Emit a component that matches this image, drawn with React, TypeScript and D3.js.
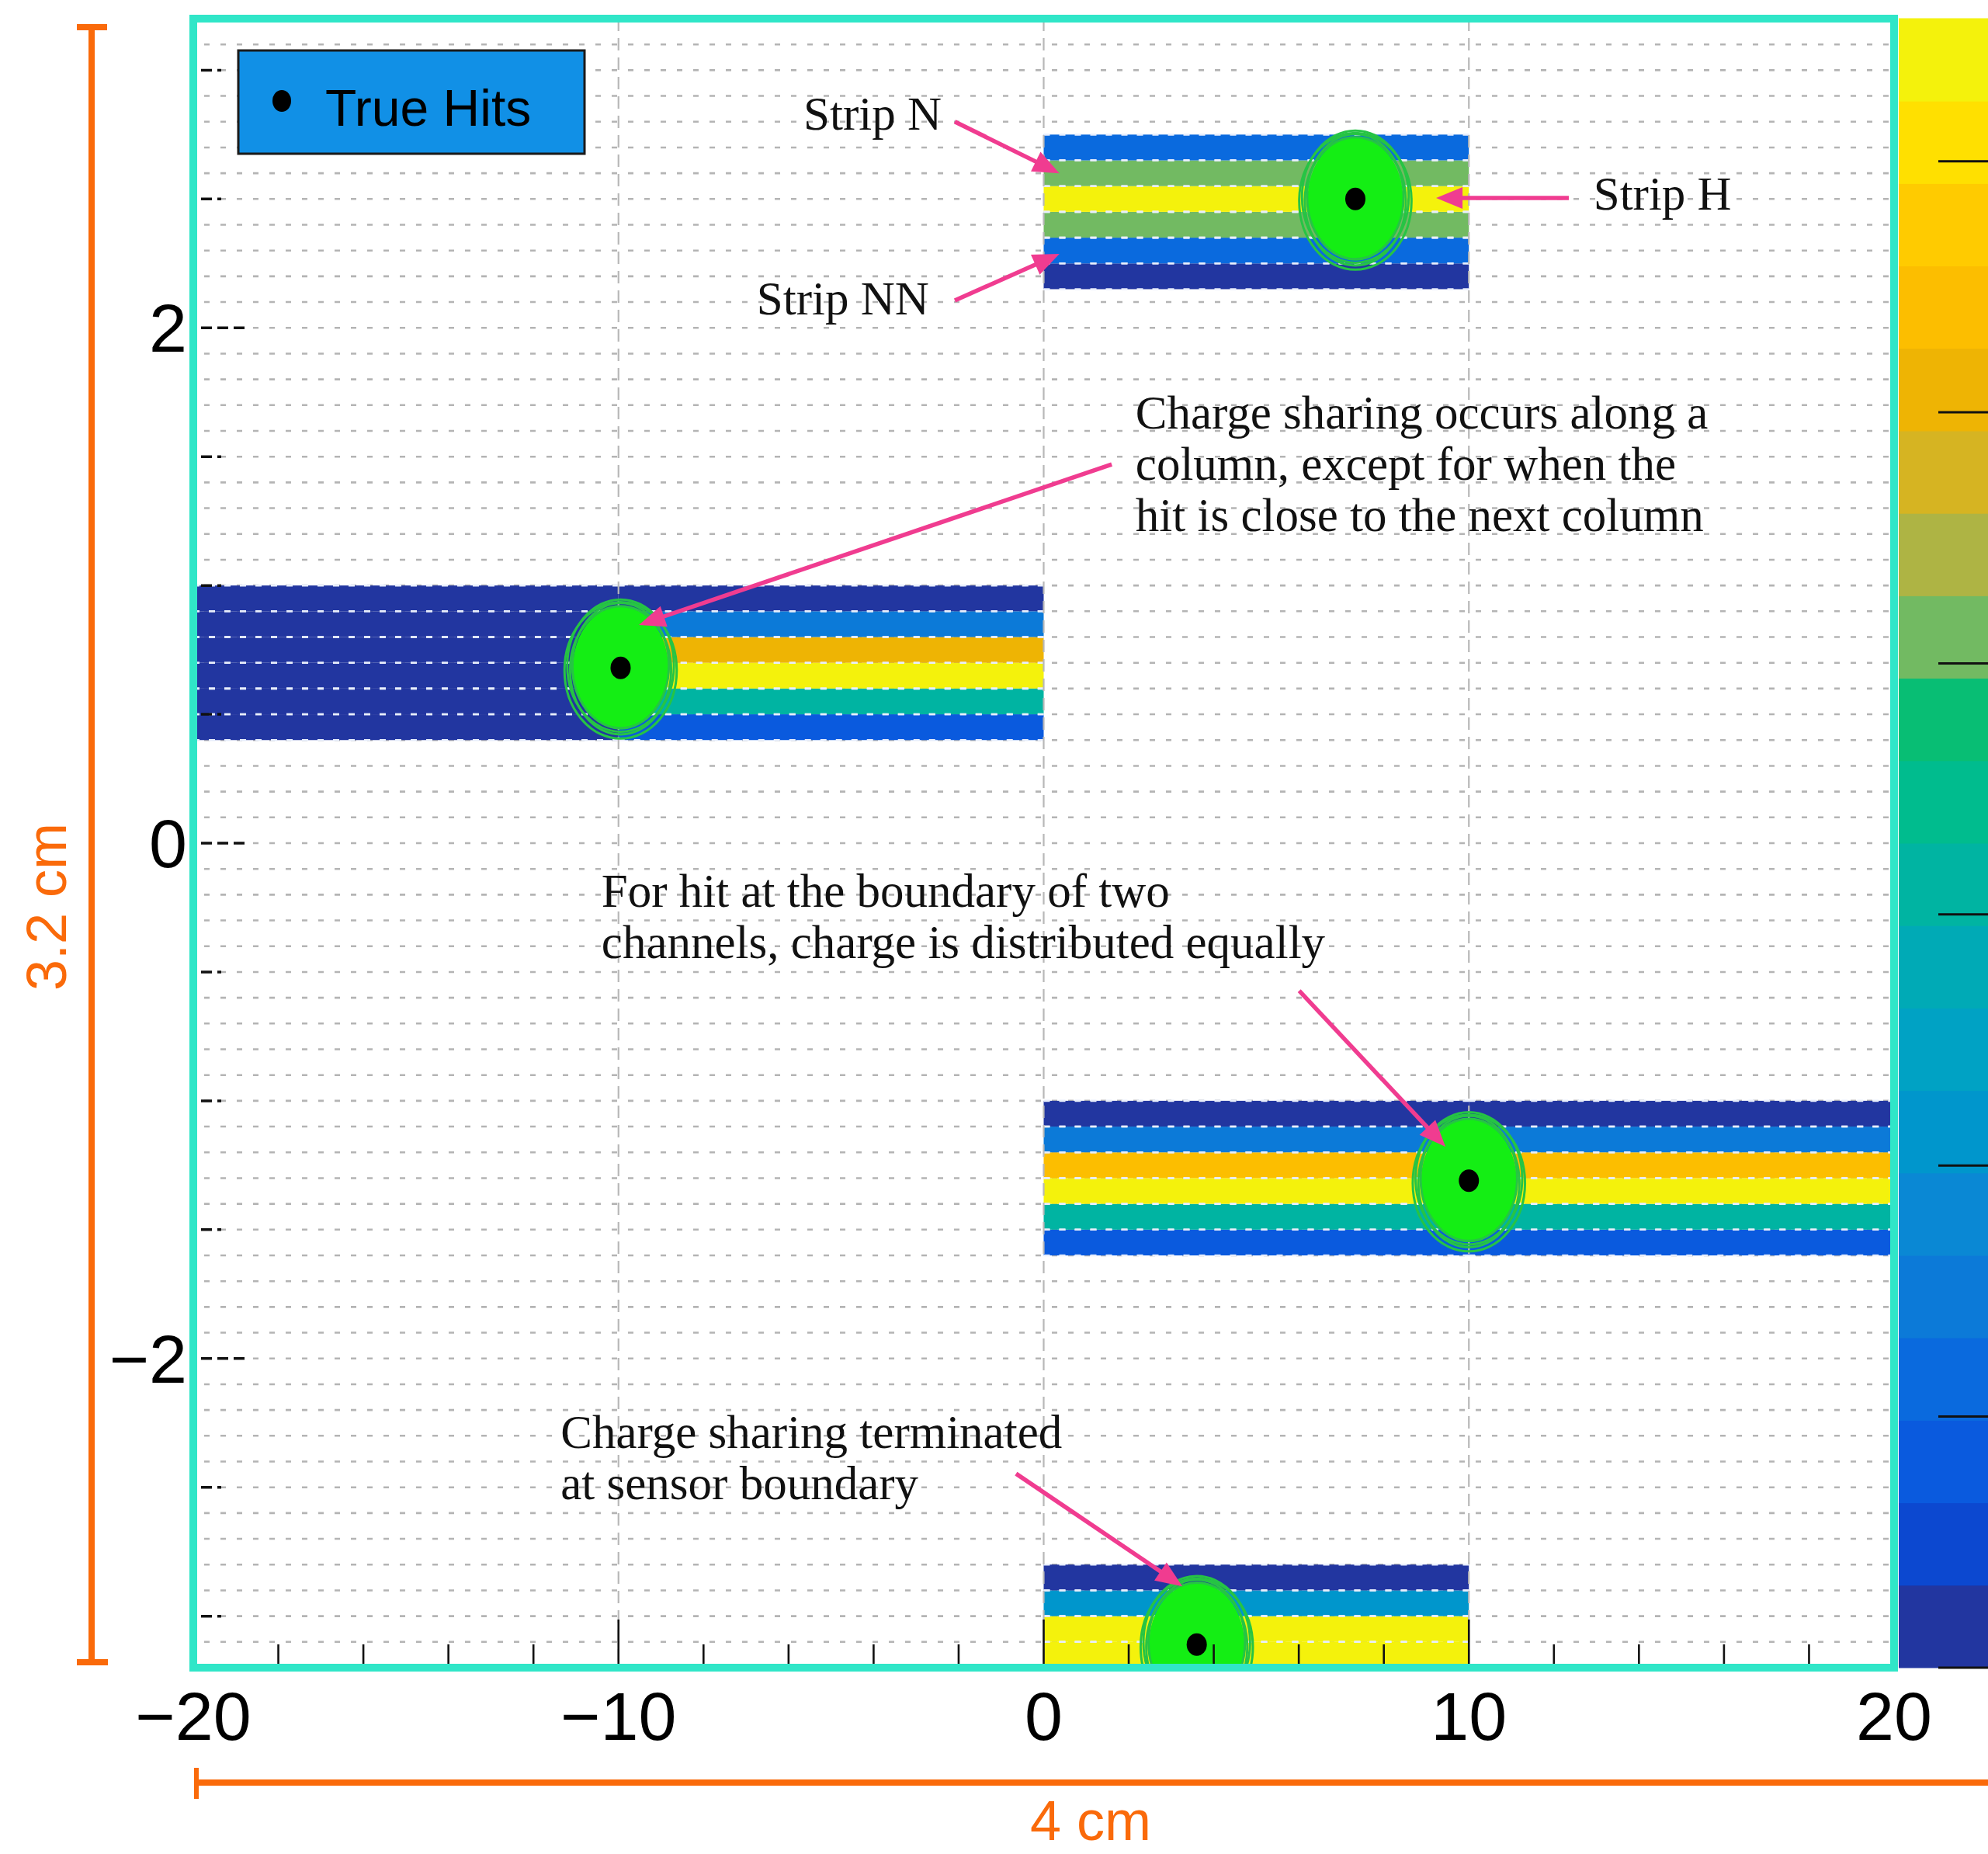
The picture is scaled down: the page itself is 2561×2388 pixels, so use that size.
import React from 'react';
import * as d3 from 'd3';

// Canvas and plot frame (pixels)
const W = 2561;
const H = 2388;
const plot = { left: 249, right: 2440, top: 24, bottom: 2148 };

// Axes
const xDomain: [number, number] = [-20, 20];
const yDomain: [number, number] = [-3.2, 3.2];
const xTickLabels = [-20, -10, 0, 10, 20];
const xMinorStep = 2;
const xGridLines = [-10, 0, 10];
const yTickLabels = [2, 0, -2];
const yMinorStep = 0.5;
const stripPitch = 0.1;

// Colour palette of the z axis (bottom -> top) and its range
const paletteColors = [
  '#2236a0', '#0c48d0', '#0a5ade', '#0a6ade', '#0c7ad8',
  '#0a88d4', '#0096cc', '#00a2c4', '#00aab6', '#00b4a2',
  '#00bc8e', '#08be74', '#72ba62', '#aeb444', '#d6b422',
  '#eeb404', '#fcbe00', '#ffcb00', '#ffe000', '#f4f20c',
];
const zMax = 0.3284;
const zTicks = [0, 0.05, 0.1, 0.15, 0.2, 0.25, 0.3];

// True hit positions
const hitX = [7.33, -9.95, 10.0, 3.6];
const hitY = [2.5, 0.68, -1.31, -3.11];

// Strip clusters: column span, lower edge of first strip, charge per strip (bottom -> top)
const topColumns: [number, number][] = [[0, 10]];
const topBase = 2.15;
const topCharge = [0.008, 0.055, 0.205, 0.32, 0.205, 0.055];

const leftOuterColumn: [number, number] = [-20, -10];
const leftInnerColumn: [number, number] = [-10, 0];
const leftBase = 0.4;
const leftOuterCharge = [0.008, 0.008, 0.008, 0.008, 0.008, 0.008];
const leftInnerCharge = [0.04, 0.155, 0.32, 0.255, 0.075, 0.008];

const rightColumns: [number, number][] = [[0, 10], [10, 20]];
const rightBase = -1.6;
const rightCharge = [0.04, 0.155, 0.32, 0.27, 0.075, 0.008];

const edgeColumns: [number, number][] = [[0, 10]];
const edgeBase = -3.2;
const edgeCharge = [0.32, 0.32, 0.105, 0.008];

// Charge-cloud contour size around each hit (data units) and ring scalings
const cloudRx = 1.32;
const cloudRy = 0.265;
const ringScaleX = [1.0, 0.95, 0.9, 0.86];
const ringScaleY = [1.0, 0.968, 0.94, 0.915];
const cloudFillScale = [0.85, 0.9];

// Annotations (data coordinates)
const arrowFrom: [number, number][] = [
  [-2.09, 2.8], [-2.09, 2.106], [12.35, 2.504], [1.6, 1.47], [6.01, -0.573], [-0.65, -2.447],
];
const arrowTo: [number, number][] = [
  [0.37, 2.6], [0.37, 2.287], [9.23, 2.504], [-9.52, 0.847], [9.45, -1.178], [3.26, -2.884],
];
const noteX = [-5.65, -6.75, 12.93, 2.16, -10.4, -11.36];
const noteY = [2.769, 2.052, 2.459, 1.609, -0.247, -2.347];
const noteLines = [
  ['Strip N'],
  ['Strip NN'],
  ['Strip H'],
  ['Charge sharing occurs along a', 'column, except for when the', 'hit is close to the next column'],
  ['For hit at the boundary of two', 'channels, charge is distributed equally'],
  ['Charge sharing terminated', 'at sensor boundary'],
];

const legendLabel = 'True Hits';
const heightLabel = '3.2 cm';
const widthLabel = '4 cm';

type Cell = { x0: number; x1: number; y0: number; y1: number; v: number };

function buildCells(cols: [number, number][], base: number, charges: number[][]): Cell[] {
  const out: Cell[] = [];
  cols.forEach((c, ci) => {
    charges[ci].forEach((v, i) => {
      out.push({ x0: c[0], x1: c[1], y0: base + i * stripPitch, y1: base + (i + 1) * stripPitch, v });
    });
  });
  return out;
}

const clusters = [
  { cols: topColumns, base: topBase, charges: [topCharge] },
  { cols: [leftOuterColumn, leftInnerColumn], base: leftBase, charges: [leftOuterCharge, leftInnerCharge] },
  { cols: rightColumns, base: rightBase, charges: [rightCharge, rightCharge] },
  { cols: edgeColumns, base: edgeBase, charges: [edgeCharge] },
];

const SANS = 'Liberation Sans, Arial, Helvetica, sans-serif';
const SERIF = 'Liberation Serif, Times New Roman, serif';
const ORANGE = '#fa6a0a';
const PINK = '#f03c90';
const FRAME = '#30e6c8';

function arrowPath(x0: number, y0: number, x1: number, y1: number) {
  const dx = x1 - x0;
  const dy = y1 - y0;
  const len = Math.hypot(dx, dy);
  const ux = dx / len;
  const uy = dy / len;
  const head = 34;
  const half = 14;
  const bx = x1 - ux * head;
  const by = y1 - uy * head;
  return {
    shaft: { x1: x0, y1: y0, x2: bx + ux * 4, y2: by + uy * 4 },
    head: `M${x1},${y1}L${bx - uy * half},${by + ux * half}L${bx + uy * half},${by - ux * half}Z`,
  };
}

export default function App() {
  const x = d3.scaleLinear().domain(xDomain).range([plot.left, plot.right]);
  const y = d3.scaleLinear().domain(yDomain).range([plot.bottom, plot.top]);
  const color = d3.scaleQuantize<string>().domain([0, zMax]).range(paletteColors);
  const z = d3.scaleLinear().domain([0, zMax]).range([plot.bottom, plot.top]);
  const fmt = d3.format('d');

  const cells = clusters.flatMap((c) => buildCells(c.cols, c.base, c.charges));
  const gridY = d3.range(-31, 32).map((i) => i * stripPitch);
  const xMinor = d3.range(xDomain[0] + xMinorStep, xDomain[1], xMinorStep).filter((v) => v % 10 !== 0);
  const xMajor = [-10, 0, 10];
  const yMinor = d3.range(-3, 3.01, yMinorStep).filter((v) => Math.abs(v % 2) > 1e-6);
  const yMajor = yTickLabels;

  const bandH = (plot.bottom - plot.top) / paletteColors.length;

  return (
    <svg
      width={W}
      height={H}
      viewBox={`0 0 ${W} ${H}`}
      style={{ position: 'absolute', left: 0, top: 0, display: 'block', background: '#fff' }}
    >
      <defs>
        <clipPath id="plotClip">
          <rect x={plot.left} y={plot.top} width={plot.right - plot.left} height={plot.bottom - plot.top} />
        </clipPath>
      </defs>
      <rect x={0} y={0} width={W} height={H} fill="#fff" />

      {/* horizontal grid */}
      <g stroke="#b4b4b4" strokeWidth={2.6} strokeDasharray="7 14">
        {gridY.map((g) => (
          <line key={g} x1={plot.left + 14} x2={plot.right} y1={y(g)} y2={y(g)} />
        ))}
      </g>

      {/* strip cells */}
      <g>
        {cells.map((c, i) => (
          <rect
            key={i}
            x={x(c.x0)}
            y={y(c.y1)}
            width={x(c.x1) - x(c.x0)}
            height={y(c.y0) - y(c.y1)}
            fill={color(c.v)}
          />
        ))}
      </g>
      {/* strip borders */}
      <g stroke="#e8eefc" strokeWidth={2.6} strokeDasharray="8 12">
        {cells.map((c, i) => (
          <g key={i}>
            <line x1={x(c.x0)} x2={x(c.x1)} y1={y(c.y1)} y2={y(c.y1)} />
            <line x1={x(c.x0)} x2={x(c.x1)} y1={y(c.y0)} y2={y(c.y0)} />
          </g>
        ))}
      </g>

      {/* vertical grid */}
      <g stroke="#b8b8b8" strokeWidth={2.2} strokeDasharray="16 9">
        {xGridLines.map((g) => (
          <line key={g} x1={x(g)} x2={x(g)} y1={plot.top} y2={plot.bottom} />
        ))}
      </g>

      {/* charge clouds */}
      <g clipPath="url(#plotClip)">
        {hitX.map((hx, i) => {
          const hy = hitY[i];
          const rx = x(hx + cloudRx) - x(hx);
          const ry = y(hy) - y(hy + cloudRy);
          return (
            <g key={i}>
              <ellipse
                cx={x(hx)}
                cy={y(hy)}
                rx={rx * cloudFillScale[0]}
                ry={ry * cloudFillScale[1]}
                fill="#14ee14"
              />
              {ringScaleX.map((s, k) => (
                <ellipse
                  key={k}
                  cx={x(hx)}
                  cy={y(hy) + (k % 2 === 0 ? 3 : -3)}
                  rx={rx * s}
                  ry={ry * ringScaleY[k]}
                  fill="none"
                  stroke="#26c444"
                  strokeWidth={3}
                />
              ))}
            </g>
          );
        })}
      </g>

      {/* true hits */}
      <g fill="#000">
        {hitX.map((hx, i) => (
          <ellipse key={i} cx={x(hx)} cy={y(hitY[i])} rx={13} ry={14.5} />
        ))}
      </g>

      {/* x ticks */}
      <g stroke="#111" strokeWidth={2.6}>
        {xMinor.map((t) => (
          <line key={t} x1={x(t)} x2={x(t)} y1={plot.bottom} y2={plot.bottom - 30} />
        ))}
        {xMajor.map((t) => (
          <line key={t} x1={x(t)} x2={x(t)} y1={plot.bottom} y2={plot.bottom - 62} />
        ))}
      </g>
      {/* y ticks */}
      <g stroke="#111" strokeWidth={3.5} strokeDasharray="14 7">
        {yMinor.map((t) => (
          <line key={t} x1={plot.left + 10} x2={plot.left + 36} y1={y(t)} y2={y(t)} />
        ))}
        {yMajor.map((t) => (
          <line key={t} x1={plot.left + 10} x2={plot.left + 66} y1={y(t)} y2={y(t)} />
        ))}
      </g>

      {/* frame */}
      <rect
        x={plot.left}
        y={plot.top}
        width={plot.right - plot.left}
        height={plot.bottom - plot.top}
        fill="none"
        stroke={FRAME}
        strokeWidth={10}
      />

      {/* legend */}
      <g>
        <rect x={307} y={65} width={446} height={133} fill="#1190e6" stroke="#1a1a1a" strokeWidth={3} />
        <ellipse cx={363} cy={130} rx={12} ry={14} fill="#000" />
        <text x={419} y={162} fontFamily={SANS} fontSize={66} fill="#000">
          {legendLabel}
        </text>
      </g>

      {/* annotations */}
      <g>
        {arrowFrom.map((f, i) => {
          const a = arrowPath(x(f[0]), y(f[1]), x(arrowTo[i][0]), y(arrowTo[i][1]));
          return (
            <g key={i}>
              <line {...a.shaft} stroke={PINK} strokeWidth={5.5} />
              <path d={a.head} fill={PINK} />
            </g>
          );
        })}
        {noteLines.map((lines, i) => (
          <text key={i} x={x(noteX[i])} y={y(noteY[i])} fontFamily={SERIF} fontSize={61} fill="#111">
            {lines.map((ln, k) => (
              <tspan key={k} x={x(noteX[i])} dy={k === 0 ? 0 : 66}>
                {ln}
              </tspan>
            ))}
          </text>
        ))}
      </g>

      {/* colour scale */}
      <g>
        {paletteColors.map((c, i) => (
          <rect
            key={i}
            x={plot.right + 6}
            y={plot.bottom - (i + 1) * bandH - 0.5}
            width={W - plot.right}
            height={bandH + 1}
            fill={c}
          />
        ))}
        <g stroke="#111" strokeWidth={3}>
          {zTicks.map((t) => (
            <line key={t} x1={2497} x2={W} y1={z(t)} y2={z(t)} />
          ))}
        </g>
      </g>

      {/* axis labels */}
      <g fontFamily={SANS} fontSize={88} fill="#000">
        {xTickLabels.map((t) => (
          <text key={t} x={x(t)} y={2241} textAnchor="middle">
            {fmt(t)}
          </text>
        ))}
        {yTickLabels.map((t) => (
          <text key={t} x={241} y={y(t) + 31} textAnchor="end">
            {fmt(t)}
          </text>
        ))}
      </g>

      {/* dimension markers */}
      <g stroke={ORANGE} strokeWidth={8} fill="none">
        <line x1={118} x2={118} y1={35} y2={2141} />
        <line x1={99} x2={138} y1={35} y2={35} />
        <line x1={99} x2={139} y1={2141} y2={2141} />
        <line x1={253} x2={W} y1={2296} y2={2296} />
        <line x1={253} x2={253} y1={2277} y2={2317} strokeWidth={6} />
      </g>
      <text
        x={85}
        y={1168}
        transform="rotate(-90 85 1168)"
        textAnchor="middle"
        fontFamily={SANS}
        fontSize={72}
        fill={ORANGE}
      >
        {heightLabel}
      </text>
      <text x={1405} y={2370} textAnchor="middle" fontFamily={SANS} fontSize={72} fill={ORANGE}>
        {widthLabel}
      </text>
    </svg>
  );
}
